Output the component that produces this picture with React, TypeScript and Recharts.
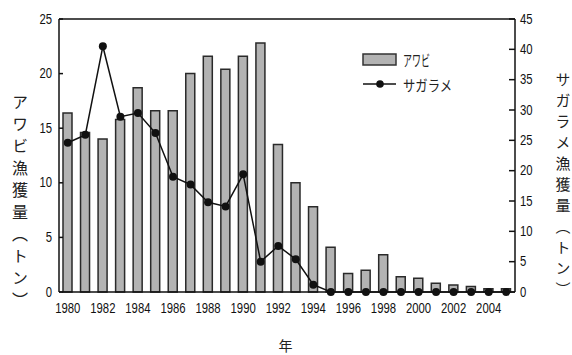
import React from 'react';
import {
  ComposedChart, Bar, Line, XAxis, YAxis, ReferenceLine, Customized,
} from 'recharts';

const years = ['1980','1981','1982','1983','1984','1985','1986','1987','1988','1989','1990','1991','1992','1993','1994','1995','1996','1997','1998','1999','2000','2001','2002','2003','2004','2005'];
const abalone = [16.4,14.6,14.0,15.8,18.7,16.6,16.6,20.0,21.6,20.4,21.6,22.8,13.5,10.0,7.8,4.1,1.7,2.0,3.4,1.4,1.25,0.8,0.64,0.5,0.3,0.3];
const sagarame = [24.6,25.9,40.5,28.9,29.5,26.2,19.0,17.7,14.8,14.1,19.4,5.0,7.6,5.4,1.2,0,0,0,0,0,0,0,0,0,0,0];
const leftTicks = [0,5,10,15,20,25];
const rightTicks = [0,5,10,15,20,25,30,35,40,45];
const boundaryTicks = [1,2,3,4,5,6,7,8,9,10,11,12,13,14,15,16,17,18,19,20,21,22,23,24,25];

const seriesNames = { abalone: 'アワビ', sagarame: 'サガラメ' };
const leftTitle = 'アワビ漁獲量（トン）';
const rightTitle = 'サガラメ漁獲量（トン）';
const xTitle = '年';

const data = years.map((y, i) => ({ year: y, abalone: abalone[i], sagarame: sagarame[i] }));

const NUM_FONT = '"Liberation Sans", Arial, sans-serif';
const JP_FONT = '"Noto Sans CJK JP", sans-serif';
const CHAR_W = 6.3;

const NumText = ({ x, y, anchor, value }: any) => {
  const s = String(value);
  return (
    <text x={x} y={y} textAnchor={anchor} fontFamily={NUM_FONT} fontSize={14.5} fill="#111"
      textLength={CHAR_W * s.length} lengthAdjust="spacingAndGlyphs">{s}</text>
  );
};

const XTick = (p: any) => <NumText x={p.x} y={p.y + 21} anchor="middle" value={p.payload.value} />;
const LTick = (p: any) => <NumText x={p.x} y={p.y + 4.5} anchor="end" value={p.payload.value} />;
const RTick = (p: any) => <NumText x={p.x} y={p.y + 4.5} anchor="start" value={p.payload.value} />;

const Decor = () => (
  <g>
    <rect x={363} y={54} width={33} height={11} fill="#b3b3b3" stroke="#333" strokeWidth={1.5} />
    <text x={403} y={66} fontFamily={JP_FONT} fontSize={15} fill="#222" textLength={27} lengthAdjust="spacingAndGlyphs">{seriesNames.abalone}</text>
    <line x1={363} y1={84} x2={396} y2={84} stroke="#111" strokeWidth={1.5} />
    <circle cx={380} cy={84} r={3.8} fill="#111" />
    <text x={403} y={91} fontFamily={JP_FONT} fontSize={15} fill="#222" textLength={49} lengthAdjust="spacingAndGlyphs">{seriesNames.sagarame}</text>
    <text x={20} y={94} fontFamily={JP_FONT} fontSize={16} fill="#222"
      style={{ writingMode: 'vertical-rl', letterSpacing: '6px' } as any}>{leftTitle}</text>
    <text x={563} y={72} fontFamily={JP_FONT} fontSize={15} fill="#222"
      style={{ writingMode: 'vertical-rl', letterSpacing: '6px' } as any}>{rightTitle}</text>
    <text x={285.5} y={351} textAnchor="middle" fontFamily={JP_FONT} fontSize={14} fill="#222">{xTitle}</text>
  </g>
);

export default function App() {
  return (
    <div style={{ position: 'absolute', left: 0, top: 0, width: 572, height: 355, background: '#fff' }}>
      <ComposedChart width={572} height={355} data={data} margin={{ top: 19, right: 0, left: 0, bottom: 33 }} barCategoryGap={0}>
        <XAxis dataKey="year" xAxisId="main" interval={1} tickLine={false} tickSize={0} tickMargin={0} height={30}
          axisLine={{ stroke: '#111', strokeWidth: 1.5 }} tick={<XTick />} />
        <XAxis xAxisId="bounds" type="number" domain={[0, 26]} ticks={boundaryTicks} mirror
          tick={false} axisLine={false} tickSize={3} tickLine={{ stroke: '#111', strokeWidth: 1 }} height={0} />
        <YAxis yAxisId="left" orientation="left" width={59} domain={[0, 25]} ticks={leftTicks}
          tickSize={-4} tickMargin={11} tick={<LTick />}
          axisLine={{ stroke: '#111', strokeWidth: 1.5 }} tickLine={{ stroke: '#111', strokeWidth: 1.5 }} />
        <YAxis yAxisId="right" orientation="right" width={57} domain={[0, 45]} ticks={rightTicks}
          tickSize={-6} tickMargin={11} tick={<RTick />}
          axisLine={{ stroke: '#111', strokeWidth: 1.5 }} tickLine={{ stroke: '#111', strokeWidth: 1.5 }} />
        <ReferenceLine yAxisId="left" xAxisId="main" y={25} stroke="#111" strokeWidth={1.5} />
        <Bar dataKey="abalone" xAxisId="main" yAxisId="left" name={seriesNames.abalone} barSize={9}
          fill="#b3b3b3" stroke="#2a2a2a" strokeWidth={1.5} isAnimationActive={false} />
        <Line dataKey="sagarame" xAxisId="main" yAxisId="right" name={seriesNames.sagarame} type="linear"
          stroke="#111" strokeWidth={1.5} dot={{ r: 4, fill: '#111', stroke: '#111', strokeWidth: 0 }}
          activeDot={false} isAnimationActive={false} />
        <Customized component={<Decor />} />
      </ComposedChart>
    </div>
  );
}
